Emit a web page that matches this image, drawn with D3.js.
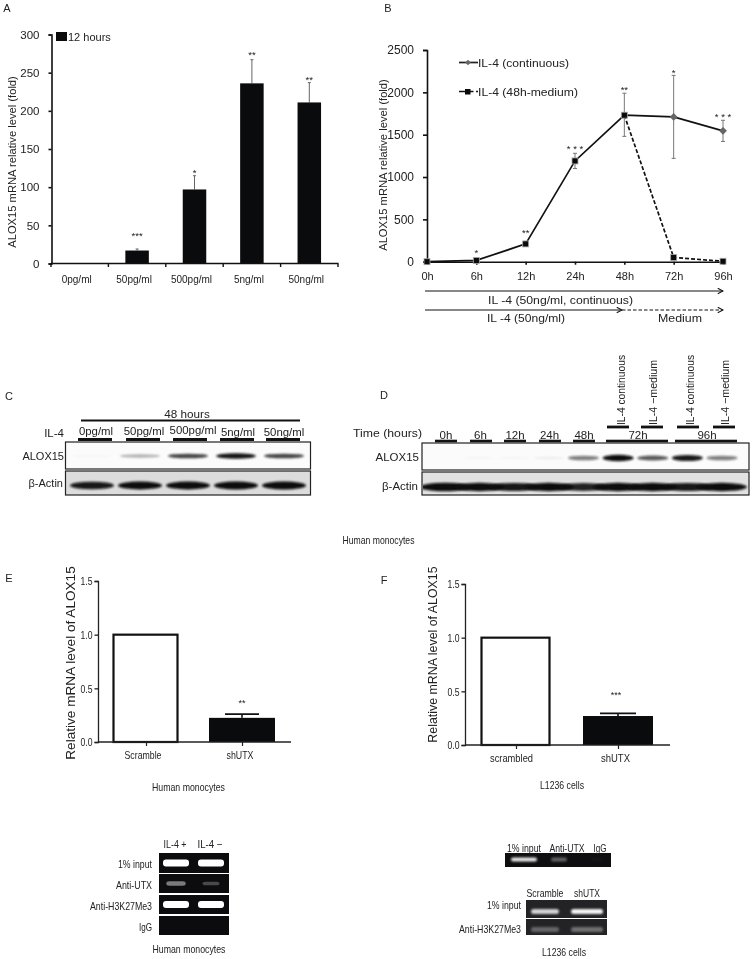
<!DOCTYPE html>
<html><head><meta charset="utf-8">
<script src="https://cdnjs.cloudflare.com/ajax/libs/d3/7.8.5/d3.min.js"></script>
<style>
html,body{margin:0;padding:0;background:#fff}
svg{display:block;filter:blur(0.35px)}
text{font-family:"Liberation Sans",Arial,sans-serif;fill:#222}
</style></head><body>
<svg id="c" width="753" height="959"></svg>
<script>
// Panel A
const doseCats=["0pg/ml","50pg/ml","500pg/ml","5ng/ml","50ng/ml"];
const doseVals=[0,17,97,236,211];
const doseErrTop=[0,19,115,267,237];
const doseStars=["","***","*","**","**"];
const doseStarAt=[0,37,120,274,242];
// Panel B
const timeCats=["0h","6h","12h","24h","48h","72h","96h"];
const contVals=[0,15,210,1190,1730,1710,1545];
const contLow=[0,5,190,1100,1480,1220,1420];
const contHigh=[0,30,230,1280,1990,2200,1670];
const timeStars=["","*","**","* * *","**","*","* * *"];
const timeStarAt=[0,115,351,1343,2036,2240,1720];
const medCats=["48h","72h","96h"];
const medVals=[1730,50,5];
// Panel C
const cLanes=["0pg/ml","50pg/ml","500pg/ml","5ng/ml","50ng/ml"];
const cAlox=[0.02,0.3,0.75,1,0.75];
const cActin=[0.9,0.95,0.95,1,1];
// Panel D
const dLanes=["0h","6h","12h","24h","48h","72c","72m","96c","96m"];
const dHourLabels=["0h","6h","12h","24h","48h"];
const dAlox=[0,0.02,0.02,0.05,0.5,1,0.65,0.9,0.5];
const dActin=[1,0.95,0.9,0.95,0.85,0.95,0.95,0.9,0.95];
// Panels E and F
const eCats=["Scramble","shUTX"], eVals=[1,0.225], eErr=[0,0.26];
const fCats=["scrambled","shUTX"], fVals=[1,0.27], fErr=[0,0.295];
// Gels
const gRows=["1% input","Anti-UTX","Anti-H3K27Me3","IgG"];
const gLanes=["IL-4 +","IL-4 \u2212"];
const gInt=[[1,1],[0.45,0.25],[1,1],[0,0]];
const hTopLanes=["1% input","Anti-UTX","IgG"];
const hTopInt=[0.9,0.35,0.02];
const hRows=["1% input","Anti-H3K27Me3"];
const hLanes=["Scramble","shUTX"];
const hInt=[[0.8,0.95],[0.3,0.35]];

const svg=d3.select("#c");
const defs=svg.append("defs");
[["b0",0.5],["b1",0.9],["b2",1.6]].forEach(([id,s])=>defs.append("filter").attr("id",id)
  .attr("x","-30%").attr("y","-100%").attr("width","160%").attr("height","300%")
  .append("feGaussianBlur").attr("stdDeviation",s));

function txt(x,y,s,o={}){
  const t=svg.append("text").attr("x",x).attr("y",y).text(s)
    .attr("font-size",o.size||11).attr("text-anchor",o.anchor||"middle")
    .attr("dominant-baseline","central");
  if(o.w)t.attr("textLength",o.w).attr("lengthAdjust","spacingAndGlyphs");
  if(o.rot)t.attr("transform",`rotate(-90 ${x} ${y})`);
  if(o.ls)t.attr("letter-spacing",o.ls);
  return t;
}
function styleAxis(g,w,color,size,tickW){
  g.selectAll("path,line").attr("stroke",color||"#111").attr("stroke-width",w);
  g.selectAll("text").attr("font-size",size);
  if(tickW)g.selectAll("text").attr("textLength",tickW).attr("lengthAdjust","spacingAndGlyphs");
  g.attr("font-family",null).attr("font-size",null);
}
[["A",7,8],["B",388,8],["C",9,396],["D",384,395],["E",9,578],["F",384,580]]
  .forEach(([s,x,y])=>txt(x,y,s,{size:11}));

// ---- A
(function(){
  const x=d3.scaleBand().domain(doseCats).range([51,338]);
  const y=d3.scaleLinear().domain([0,300]).range([263.5,34.5]);
  const bw=23.5;
  doseCats.forEach((c,i)=>{
    const cx=x(c)+x.bandwidth()/2;
    if(doseVals[i]>0){
      svg.append("line").attr("x1",cx).attr("x2",cx).attr("y1",y(doseVals[i])).attr("y2",y(doseErrTop[i])).attr("stroke","#666").attr("stroke-width",1);
      svg.append("line").attr("x1",cx-1.5).attr("x2",cx+1.5).attr("y1",y(doseErrTop[i])).attr("y2",y(doseErrTop[i])).attr("stroke","#666");
      svg.append("rect").attr("x",cx-bw/2).attr("width",bw).attr("y",y(doseVals[i])).attr("height",y(0)-y(doseVals[i])).attr("fill","#0a0b0d");
    }
    if(doseStars[i])txt(cx,y(doseStarAt[i])+0.5,doseStars[i],{size:9.5});
    txt(cx-3,279,c,{size:10});
  });
  const gy=svg.append("g").attr("transform","translate(51.5,0)").call(d3.axisLeft(y).tickValues([0,50,100,150,200,250,300]).tickSize(3).tickPadding(9));
  styleAxis(gy,1.6,"#111",11.5);
  svg.append("line").attr("x1",51).attr("x2",338.5).attr("y1",y(0)).attr("y2",y(0)).attr("stroke","#111").attr("stroke-width",1.6);
  x.domain().concat(["end"]).forEach((c,i)=>{
    const xx=51+i*x.step();
    svg.append("line").attr("x1",xx).attr("x2",xx).attr("y1",y(0)).attr("y2",y(0)+3.5).attr("stroke","#111").attr("stroke-width",1.4);
  });
  svg.append("rect").attr("x",56).attr("y",32).attr("width",11).attr("height",9).attr("fill","#0a0b0d");
  txt(68,36.5,"12 hours",{size:11,anchor:"start"});
  txt(12,162,"ALOX15 mRNA relative level (fold)",{size:11.2,rot:true});
})();

// ---- B
(function(){
  const x=d3.scalePoint().domain(timeCats).range([427,723]);
  const y=d3.scaleLinear().domain([0,2500]).range([261.7,50]);
  timeCats.forEach((c,i)=>{
    if(contHigh[i]>contLow[i]&&i>1){
      const cx=x(c);
      svg.append("line").attr("x1",cx).attr("x2",cx).attr("y1",y(contLow[i])).attr("y2",y(contHigh[i])).attr("stroke","#777");
      [contLow[i],contHigh[i]].forEach(v=>svg.append("line").attr("x1",cx-2).attr("x2",cx+2).attr("y1",y(v)).attr("y2",y(v)).attr("stroke","#777"));
    }
  });
  const solid=d3.line().x((d,i)=>x(timeCats[i])).y(d=>y(d));
  svg.append("path").attr("d",solid(contVals)).attr("fill","none").attr("stroke","#111").attr("stroke-width",1.7);
  const dash=d3.line().x((d,i)=>x(medCats[i])).y(d=>y(d));
  svg.append("path").attr("d",dash(medVals)).attr("fill","none").attr("stroke","#111").attr("stroke-width",1.7).attr("stroke-dasharray","4 2");
  const gy=svg.append("g").attr("transform","translate(427,0)").call(d3.axisLeft(y).tickValues([0,500,1000,1500,2000,2500]).tickFormat(d3.format("d")).tickSize(4).tickPadding(9));
  styleAxis(gy,1.6,"#111",12);
  const gx=svg.append("g").attr("transform",`translate(0,${y(0)})`).call(d3.axisBottom(x).tickSize(3).tickPadding(8));
  styleAxis(gx,1.6,"#111",11);
  const mark=(cx,cy)=>{
    svg.append("rect").attr("x",cx-3).attr("y",cy-3).attr("width",6).attr("height",6).attr("fill","#0a0a0a").attr("stroke","#aaa").attr("stroke-width",0.8);
  };
  const diamond=(cx,cy,s)=>{
    svg.append("rect").attr("x",cx-s).attr("y",cy-s).attr("width",2*s).attr("height",2*s).attr("fill","#666").attr("transform",`rotate(45 ${cx} ${cy})`);
  };
  timeCats.forEach((c,i)=>{
    if(i<=4)mark(x(c),y(contVals[i]));
    else diamond(x(c),y(contVals[i]),2.8);
    if(timeStars[i])txt(x(c),y(timeStarAt[i])+0.5,timeStars[i],{size:9.5});
  });
  medCats.slice(1).forEach((c,i)=>mark(x(c),y(medVals[i+1])));
  // legend
  svg.append("line").attr("x1",459).attr("x2",478).attr("y1",62.5).attr("y2",62.5).attr("stroke","#222").attr("stroke-width",1.7);
  diamond(468,62.5,2);
  txt(478,62.5,"IL-4 (continuous)",{size:11.5,anchor:"start",w:91});
  svg.append("line").attr("x1",459).attr("x2",478).attr("y1",91.5).attr("y2",91.5).attr("stroke","#111").attr("stroke-width",1.7).attr("stroke-dasharray","6 2.5");
  svg.append("rect").attr("x",465).attr("y",89).attr("width",5.5).attr("height",5.5).attr("fill","#0a0a0a");
  txt(478,91.5,"IL-4 (48h-medium)",{size:11.5,anchor:"start",w:100});
  txt(383,165,"ALOX15 mRNA relative level (fold)",{size:11.2,rot:true});
  // treatment arrows
  const m=defs.append("marker").attr("id","ah").attr("viewBox","0 0 8 8").attr("refX",7).attr("refY",4).attr("markerWidth",7).attr("markerHeight",7).attr("markerUnits","userSpaceOnUse").attr("orient","auto");
  m.append("path").attr("d","M1,0.8 L7,4 L1,7.2").attr("fill","none").attr("stroke","#111").attr("stroke-width",1.2);
  svg.append("line").attr("x1",425).attr("x2",723).attr("y1",291).attr("y2",291).attr("stroke","#111").attr("marker-end","url(#ah)");
  svg.append("line").attr("x1",425).attr("x2",622).attr("y1",310).attr("y2",310).attr("stroke","#111").attr("marker-end","url(#ah)");
  svg.append("line").attr("x1",622).attr("x2",723).attr("y1",310).attr("y2",310).attr("stroke","#111").attr("stroke-dasharray","3.5 2").attr("marker-end","url(#ah)");
  txt(560.5,300,"IL -4  (50ng/ml, continuous)",{size:11.5,w:145});
  txt(526,318,"IL -4  (50ng/ml)",{size:11.5,w:78});
  txt(680,317.5,"Medium",{size:11.5,w:44});
})();

// blot helper
function blotBox(x0,x1,y0,y1,bg,sw){
  svg.append("rect").attr("x",x0).attr("y",y0).attr("width",x1-x0).attr("height",y1-y0).attr("fill",bg).attr("stroke","#222").attr("stroke-width",sw===undefined?1:sw);
}
function clipFor(id,x0,x1,y0,y1){
  defs.append("clipPath").attr("id",id).append("rect").attr("x",x0).attr("y",y0).attr("width",x1-x0).attr("height",y1-y0);
}
function bands(data,xs,w,cy,h,color,flt,clip){
  svg.append("g").attr("clip-path",`url(#${clip})`).selectAll("ellipse").data(data).join("ellipse")
    .attr("cx",(d,i)=>xs(i)).attr("cy",cy).attr("rx",w/2).attr("ry",d=>h/2*(0.45+0.55*d))
    .attr("fill",color).attr("opacity",d=>Math.min(1,d*1.05)).attr("filter",`url(#${flt})`);
}
function bar(x0,x1,y,h){svg.append("rect").attr("x",x0).attr("y",y-h/2).attr("width",x1-x0).attr("height",h).attr("fill","#111");}

// ---- C
(function(){
  const x=d3.scaleBand().domain(cLanes).range([68,308]);
  const xs=i=>x(cLanes[i])+x.bandwidth()/2;
  blotBox(65.5,310.5,442,469,"#fbfbfb",1.2);
  blotBox(65.5,310.5,471,495,"#dcdcdc",1.2);
  clipFor("c1",66,310,443,468);clipFor("c2",66,310,472,494);
  bands(cAlox,xs,40,456,5.5,"#151515","b1","c1");
  bands(cActin,xs,44,485.5,8,"#0b0b0b","b1","c2");
  txt(187,413,"48 hours",{size:11.7});
  bar(81,300,420.5,2);
  txt(64,433,"IL-4",{size:11.5,anchor:"end"});
  txt(64,456,"ALOX15",{size:11,anchor:"end"});
  txt(63,483,"\u03b2-Actin",{size:11,anchor:"end"});
  const lx=[96,144,193,238,284], ly=[431,431,430,432,432];
  const bx=[[78,112],[126,160],[173,207],[220,254],[266,300]];
  cLanes.forEach((c,i)=>{txt(lx[i],ly[i],c,{size:11.4});bar(bx[i][0],bx[i][1],439.5,3);});
})();

// ---- D
(function(){
  const x=d3.scalePoint().domain(dLanes).range([445,722]);
  const xs=i=>x(dLanes[i]);
  blotBox(422,749,443,470,"#fbfbfb",1.2);
  blotBox(422,749,472,495,"#e2e2e2",1.2);
  clipFor("d1",423,748,444,469);clipFor("d2",423,748,473,494);
  bands(dAlox,xs,31,458,6.5,"#101010","b1","d1");
  bands(dActin,xs,50,487,8.5,"#0a0a0a","b1","d2");
  txt(422,433,"Time (hours)",{size:11.5,anchor:"end",w:69});
  txt(419,457,"ALOX15",{size:11.5,anchor:"end"});
  txt(418,486,"\u03b2-Actin",{size:11.5,anchor:"end"});
  dHourLabels.forEach((c,i)=>txt(446+i*34.5,435,c,{size:11.5}));
  [[435,457],[470,492],[504,526],[539,561],[573,595],[606,668],[675,737]].forEach(b=>bar(b[0],b[1],441,2.6));
  [[607,629],[641,663],[677,699],[713,735]].forEach(b=>bar(b[0],b[1],427,2.8));
  txt(638,435,"72h",{size:11.5});txt(707,435,"96h",{size:11.5});
  [[621,"IL-4 continuous",70],[653,"IL-4 \u2212medium",65],[690,"IL-4 continuous",70],[725,"IL-4 \u2212medium",65]].forEach(([lxx,s,w])=>{
    txt(lxx,425,s,{size:11,anchor:"start",rot:true,w});
  });
  txt(378.5,540,"Human monocytes",{size:10.5,w:72});
})();

// ---- E, F
function barPanel(o){
  const x=d3.scalePoint().domain(o.cats).range(o.tx);
  const y=d3.scaleLinear().domain([0,1.5]).range([o.y0,o.y1]);
  o.cats.forEach((c,i)=>{
    const cx=o.bcx[i];
    if(i===0){
      svg.append("rect").attr("x",cx-o.bw/2+1).attr("width",o.bw-2).attr("y",y(o.vals[i])).attr("height",y(0)-y(o.vals[i])).attr("fill","#fff").attr("stroke","#111").attr("stroke-width",2.2);
    }else{
      svg.append("line").attr("x1",o.capcx).attr("x2",o.capcx).attr("y1",y(o.err[i])).attr("y2",y(o.vals[i])).attr("stroke","#111").attr("stroke-width",1.6);
      svg.append("line").attr("x1",o.capcx-o.cap).attr("x2",o.capcx+o.cap).attr("y1",y(o.err[i])).attr("y2",y(o.err[i])).attr("stroke","#111").attr("stroke-width",1.8);
      svg.append("rect").attr("x",cx-o.bw/2).attr("width",o.bw).attr("y",y(o.vals[i])).attr("height",y(0)-y(o.vals[i])).attr("fill","#0a0b0d");
    }
  });
  const gy=svg.append("g").attr("transform",`translate(${o.ax},0)`).call(d3.axisLeft(y).tickValues([0,0.5,1,1.5]).tickFormat(d3.format(".1f")).tickSize(3.5).tickPadding(2));
  styleAxis(gy,1.3,"#222",11.5,12);
  const gx=svg.append("g").attr("transform",`translate(0,${o.y0})`).call(d3.axisBottom(x).tickSize(4).tickFormat(""));
  gx.selectAll("line").attr("stroke","#222").attr("stroke-width",1.2);
  gx.select("path").remove();
  svg.append("line").attr("x1",o.ax).attr("x2",o.xEnd).attr("y1",o.y0).attr("y2",o.y0).attr("stroke","#222").attr("stroke-width",1.3);
  o.cats.forEach((c,i)=>txt(o.lx[i],o.ly,c,{size:10.5,w:o.lw[i]}));
  txt(o.yl[0],o.yl[1],"Relative mRNA level of ALOX15",{size:o.ylSize,rot:true});
  txt(o.star[0],o.star[1],o.star[2],{size:9});
  txt(o.sub[0],o.sub[1],o.sub[2],{size:10.5,w:o.sub[3]});
}
barPanel({cats:eCats,vals:eVals,err:eErr,tx:[146,242],y0:742,y1:581,ax:98,xEnd:291,bcx:[145.5,242],bw:66,capcx:242,cap:17,lx:[143,240],lw:[37,27],ly:755,yl:[70,663],ylSize:13.6,star:[242,703,"**"],sub:[188.5,787,"Human monocytes",73]});
barPanel({cats:fCats,vals:fVals,err:fErr,tx:[516,618],y0:745,y1:584,ax:465,xEnd:670,bcx:[515.5,618],bw:70,capcx:618,cap:18,lx:[511.5,615.5],lw:[43,29],ly:758,yl:[433,654.5],ylSize:12.4,star:[616,695,"***"],sub:[562,784.5,"L1236 cells",44]});

// ---- Gel G
(function(){
  const ys=[[853,873],[874,893],[895,914],[916,935]];
  const lx=i=>[176,211][i];
  const rowW=[34,36,62,13];
  const laneW=[23,25];
  gRows.forEach((r,ri)=>{
    const [a,b]=ys[ri];
    svg.append("rect").attr("x",159).attr("y",a).attr("width",70).attr("height",b-a).attr("fill","#0c0c0e");
    clipFor("g"+ri,159,229,a,b);
    const bw=d=>14+12*d, bh=d=>2.5+4.5*d;
    svg.append("g").attr("clip-path",`url(#g${ri})`).selectAll("rect").data(gInt[ri]).join("rect")
      .attr("x",(d,i)=>lx(i)-bw(d)/2).attr("width",bw).attr("y",d=>(a+b)/2-bh(d)/2).attr("height",bh).attr("rx",3)
      .attr("fill","#fff").attr("opacity",d=>d).attr("filter","url(#b0)");
    txt(152,(a+b)/2+1,r,{size:11,anchor:"end",w:rowW[ri]});
  });
  gLanes.forEach((s,i)=>txt([175,210][i],844,s,{size:11,w:laneW[i]}));
  txt(189,949,"Human monocytes",{size:10.5,w:73});
})();

// ---- Gel H
(function(){
  svg.append("rect").attr("x",505).attr("y",853).attr("width",106).attr("height",14).attr("fill","#0e0e10");
  clipFor("h0",505,611,853,867);
  const tx=i=>[524,559,597][i], tw=i=>[26,16,12][i], tl=[34,35,13];
  svg.append("g").attr("clip-path","url(#h0)").selectAll("rect").data(hTopInt).join("rect")
    .attr("x",(d,i)=>tx(i)-tw(i)/2).attr("width",(d,i)=>tw(i)).attr("y",857.5).attr("height",4).attr("rx",2)
    .attr("fill","#fff").attr("opacity",d=>d).attr("filter","url(#b1)");
  hTopLanes.forEach((s,i)=>txt([524,567,600][i],848,s,{size:11,w:tl[i]}));
  const ys=[[900,918],[919,935]];
  const cx=i=>[545,587][i];
  const ry=[905,929], rw=[34,62], lw=[37,26];
  hRows.forEach((r,ri)=>{
    const [a,b]=ys[ri];
    svg.append("rect").attr("x",526).attr("y",a).attr("width",81).attr("height",b-a).attr("fill","#232325");
    clipFor("h"+(ri+1),526,607,a,b);
    svg.append("g").attr("clip-path",`url(#h${ri+1})`).selectAll("rect").data(hInt[ri]).join("rect")
      .attr("x",(d,i)=>cx(i)-[14,16][i]).attr("width",(d,i)=>[28,32][i]).attr("y",(a+b)/2).attr("height",5).attr("rx",2.5)
      .attr("fill","#fff").attr("opacity",d=>d).attr("filter","url(#b1)");
    txt(521,ry[ri],r,{size:11,anchor:"end",w:rw[ri]});
  });
  hLanes.forEach((s,i)=>txt(cx(i),893,s,{size:11,w:lw[i]}));
  txt(564,952,"L1236 cells",{size:10.5,w:44});
})();
</script>
</body></html>
